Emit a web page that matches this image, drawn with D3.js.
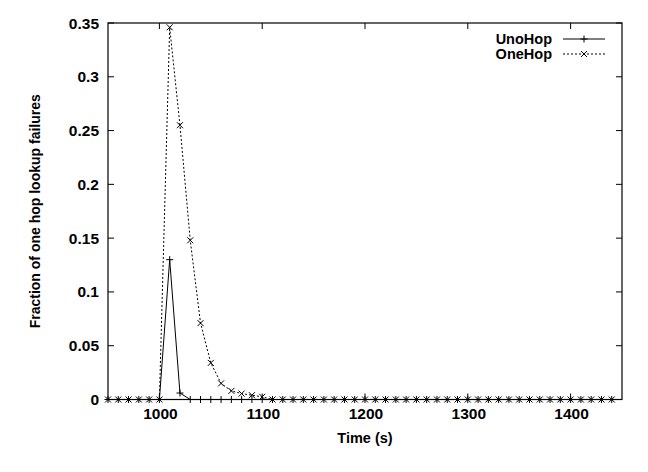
<!DOCTYPE html>
<html>
<head>
<meta charset="utf-8">
<script src="https://cdn.jsdelivr.net/npm/d3@7"></script>
<style>
  body { margin: 0; background: #fff; }
  text { font-family: "Liberation Sans", Arial, sans-serif; font-weight: bold; fill: #000; }
</style>
</head>
<body>
<svg id="chart" width="648" height="472"></svg>
<script>
// time in seconds, every 10 s from 950 to 1440
let times = d3.range(950, 1441, 10);

// UnoHop: fraction of failures (nonzero only around the failure at 1000 s)
let unoHop = times.map(t => t === 1010 ? 0.13 : t === 1020 ? 0.006 : 0);

// OneHop, zero elsewhere
let oneHopPeak = {
  1010: 0.346, 1020: 0.255, 1030: 0.148, 1040: 0.071, 1050: 0.034,
  1060: 0.015, 1070: 0.008, 1080: 0.0055, 1090: 0.004, 1100: 0.0025
};
let oneHop = times.map(t => oneHopPeak[t] || 0);

let xTicks = [1000, 1100, 1200, 1300, 1400];
let yTicks = [0, 0.05, 0.1, 0.15, 0.2, 0.25, 0.3, 0.35];
let yTickLabels = ["0", "0.05", "0.1", "0.15", "0.2", "0.25", "0.3", "0.35"];

let svg = d3.select("#chart");
let pLeft = 108, pRight = 622, pTop = 23, pBottom = 399.5;

let xScale = d3.scaleLinear().domain([950, 1450]).range([pLeft, pRight]);
let yScale = d3.scaleLinear().domain([0, 0.35]).range([pBottom, pTop]);

// Frame
svg.append("rect")
  .attr("x", pLeft).attr("y", pTop)
  .attr("width", pRight - pLeft).attr("height", pBottom - pTop)
  .attr("fill", "none").attr("stroke", "#000").attr("stroke-width", 1.2);

// Ticks (inside, mirrored)
let tl = 6;
xTicks.forEach(t => {
  let x = xScale(t);
  svg.append("line").attr("x1", x).attr("x2", x).attr("y1", pBottom).attr("y2", pBottom - tl).attr("stroke", "#000");
  svg.append("line").attr("x1", x).attr("x2", x).attr("y1", pTop).attr("y2", pTop + tl).attr("stroke", "#000");
  svg.append("text").attr("x", x + 1).attr("y", 419)
    .attr("text-anchor", "middle").attr("font-size", 15.5).text(t);
});
yTicks.forEach((t, i) => {
  let y = yScale(t);
  svg.append("line").attr("x1", pLeft).attr("x2", pLeft + tl).attr("y1", y).attr("y2", y).attr("stroke", "#000");
  svg.append("line").attr("x1", pRight).attr("x2", pRight - tl).attr("y1", y).attr("y2", y).attr("stroke", "#000");
  svg.append("text").attr("x", 99).attr("y", y + 5.5)
    .attr("text-anchor", "end").attr("font-size", 15.5).text(yTickLabels[i]);
});

// Axis titles
svg.append("text").attr("x", (pLeft + pRight) / 2).attr("y", 443)
  .attr("text-anchor", "middle").attr("font-size", 14.5).text("Time (s)");
svg.append("text")
  .attr("transform", "translate(40," + ((pTop + pBottom) / 2) + ") rotate(-90)")
  .attr("text-anchor", "middle").attr("font-size", 14)
  .text("Fraction of one hop lookup failures");

let line = d3.line()
  .x((d, i) => xScale(times[i]))
  .y(d => yScale(d));

function plus(g, x, y) {
  g.append("path").attr("d", `M${x - 3.5},${y}H${x + 3.5}M${x},${y - 3.5}V${y + 3.5}`)
    .attr("stroke", "#000").attr("stroke-width", 1).attr("fill", "none");
}
function cross(g, x, y) {
  g.append("path").attr("d", `M${x - 3},${y - 3}L${x + 3},${y + 3}M${x - 3},${y + 3}L${x + 3},${y - 3}`)
    .attr("stroke", "#000").attr("stroke-width", 1).attr("fill", "none");
}

// OneHop (dotted)
svg.append("path").datum(oneHop).attr("d", line)
  .attr("fill", "none").attr("stroke", "#000").attr("stroke-width", 1)
  .attr("stroke-dasharray", "2,2");
let gOne = svg.append("g");
oneHop.forEach((d, i) => cross(gOne, xScale(times[i]), yScale(d)));

// UnoHop (solid)
svg.append("path").datum(unoHop).attr("d", line)
  .attr("fill", "none").attr("stroke", "#000").attr("stroke-width", 1);
let gUno = svg.append("g");
unoHop.forEach((d, i) => plus(gUno, xScale(times[i]), yScale(d)));

// Legend
let legend = [
  { name: "UnoHop", dash: null, marker: plus, y: 39 },
  { name: "OneHop", dash: "2,2", marker: cross, y: 54 }
];
legend.forEach(l => {
  svg.append("text").attr("x", 552).attr("y", l.y + 5)
    .attr("text-anchor", "end").attr("font-size", 14.5).text(l.name);
  svg.append("line").attr("x1", 563).attr("x2", 605).attr("y1", l.y).attr("y2", l.y)
    .attr("stroke", "#000").attr("stroke-dasharray", l.dash);
  l.marker(svg, 584, l.y);
});
</script>
</body>
</html>
